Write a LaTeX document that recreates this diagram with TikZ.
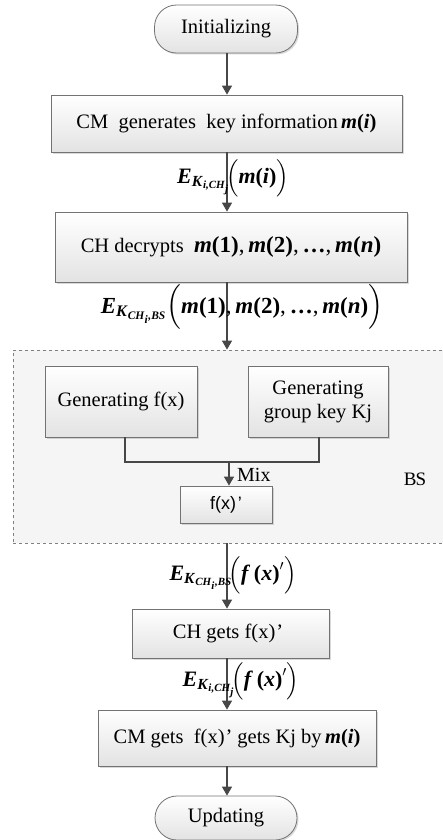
\documentclass[tikz,border=0pt]{standalone}
\usepackage{amsmath}
\usepackage{fontspec}
\setmainfont{Liberation Serif}
\newfontfamily\arialf{Liberation Sans}
\usetikzlibrary{shadows,arrows.meta}
\newcommand\bi[1]{\textbf{\textit{#1}}}
\newcommand\bu[1]{\textbf{#1}}
\begin{document}
\begin{tikzpicture}[x=1pt,y=-1pt,
  box/.style={draw=black!55, line width=0.8pt, top color=white, bottom color=black!11,
    drop shadow={opacity=0.25, shadow xshift=1.5pt, shadow yshift=-1.5pt, fill=black!60},
    inner sep=0pt, align=center, font=\fontsize{20.5}{24}\selectfont},
  pill/.style={box, rounded corners=22pt},
  arr/.style={draw=black!72, line width=1.3pt, -{Triangle[length=9pt,width=10pt]}},
  conn/.style={draw=black!72, line width=1.3pt},
  lbl/.style={inner sep=0pt, font=\fontsize{22}{24}\selectfont}]
\useasboundingbox (0,0) rectangle (443,840);
% BS container
\node[draw=black!50, dashed, line width=0.8pt, fill=black!4, minimum width=430pt, minimum height=193pt, inner sep=0pt] (bs) at (228,446.5) {};
\node[font=\fontsize{19}{20}\selectfont, inner sep=0pt] (bslbl) at (415,479) {B\kern-1ptS};
% nodes
\node[pill, minimum width=143pt, minimum height=48pt] (init) at (226,29) {Initializing};
\node[box, minimum width=351pt, minimum height=57pt] (b1) at (226.5,123.5) {CM\ \ generates\ \ key information\,\bi{m}\bu{(}\bi{i}\bu{)}};
\node[box, minimum width=352pt, minimum height=70pt] (b2) at (231,247) {CH decrypts \ {\fontsize{23}{26}\selectfont\bi{m}\bu{(1)},\,\bi{m}\bu{(2)},\,\bu{\dots},\,\bi{m}\bu{(}\bi{n}\bu{)}}};
\node[box, minimum width=152pt, minimum height=71pt] (gf) at (121,401.5) {Generating f(x)};
\node[box, minimum width=140pt, minimum height=71pt] (gk) at (318,401.5) {Generating\\group key Kj};
\node[box, minimum width=92pt, minimum height=37pt, font=\arialf\fontsize{18}{20}\selectfont] (fx) at (226,504.5) {\hspace*{6pt}f(x)\hspace{2pt}’\hspace{6pt}};
\node[box, minimum width=197pt, minimum height=49pt] (b3) at (230.5,633.5) {CH gets f(x)\hspace{1pt}’\hspace{5pt}};
\node[box, minimum width=278pt, minimum height=56pt] (b4) at (237,738) {CM gets\ \ f(x)\hspace{1pt}’\hspace{5pt}gets Kj by\,\bi{m}\bu{(}\bi{i}\bu{)}};
\node[pill, minimum width=142pt, minimum height=44pt] (upd) at (226,818) {Updating};
% connectors
\coordinate (ax) at (227,0);
\draw[arr] (init.south -| ax) -- (b1.north -| ax);
\draw[arr] (b1.south -| ax) -- (b2.north -| ax);
\draw[arr] (b2.south -| ax) -- (bs.north -| ax);
\coordinate (mj) at (229,462);
\draw[conn] (gf.south -| 125,0) |- (mj) -| (gk.south -| 319,0);
\draw[arr] (mj) -- (fx.north -| mj);
\node[anchor=west, font=\fontsize{20}{22}\selectfont, inner sep=0pt] (mix) at (237,475) {Mix};
\draw[arr] (bs.south -| ax) -- (b3.north -| ax);
\draw[arr] (b3.south -| ax) -- (b4.north -| ax);
\draw[arr] (b4.south -| ax) -- (upd.north -| ax);
% labels
\node[lbl] (l1) at (233,178) {$\text{\bi{E}}_{\text{\bi{K}}_{\text{\bi{i,CH}}_{\text{\bi{j}}}}}\!\Bigl(\text{\bi{m}\bu{(}\bi{i}\bu{)}}\Bigr)$};
\node[lbl, font=\fontsize{23}{25}\selectfont] (l2) at (242,307) {$\text{\bi{E}}_{\text{\bi{K}}_{\text{\bi{CH}}_{\text{\bi{i}}}\text{\bi{,BS}}}}\Bigl(\text{\bi{m}\bu{(1)},\,\bi{m}\bu{(2)},\,\bu{\dots},\,\bi{m}\bu{(}\bi{n}\bu{)}}\Bigr)$};
\node[lbl] (l3) at (233,575) {$\text{\bi{E}}_{\text{\bi{K}}_{\text{\bi{CH}}_{\text{\bi{i}}}\text{\bi{,BS}}}}\!\Bigl(\text{\bi{f}\,\bu{(}\bi{x}\bu{)}}^{\prime}\Bigr)$};
\node[lbl] (l4) at (241,681) {$\text{\bi{E}}_{\text{\bi{K}}_{\text{\bi{i,CH}}_{\text{\bi{j}}}}}\!\Bigl(\text{\bi{f}\,\bu{(}\bi{x}\bu{)}}^{\prime}\Bigr)$};
\end{tikzpicture}
\end{document}
